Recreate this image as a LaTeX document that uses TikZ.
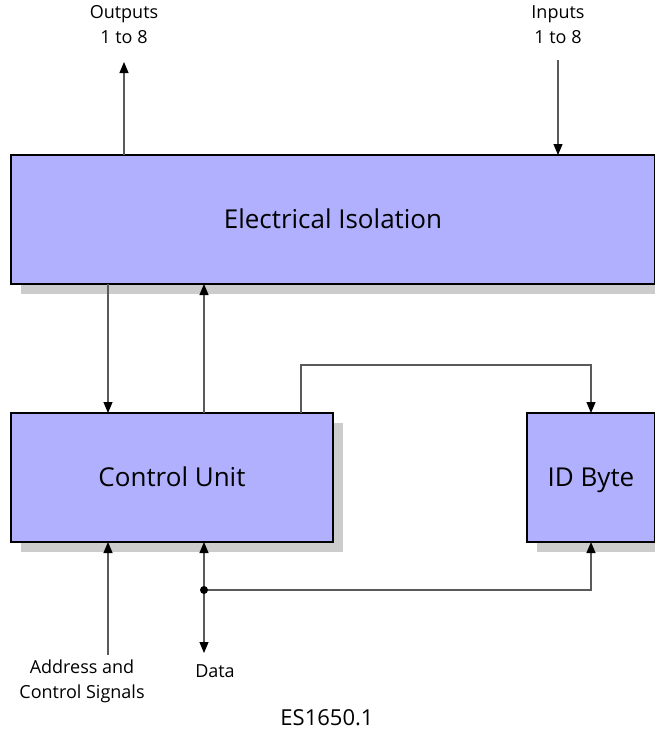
\documentclass[tikz,border=0pt]{standalone}
\usepackage{fontspec}
\setmainfont{Open Sans}
\usetikzlibrary{arrows.meta,shadows}

\definecolor{boxblue}{RGB}{176,176,255}
\definecolor{shadowgray}{RGB}{204,204,204}
\definecolor{wiregray}{RGB}{90,90,90}

\tikzset{
	block/.style={draw=black, line width=1.3pt, fill=boxblue, inner sep=0pt, outer sep=0pt,
		font=\fontsize{26}{30}\selectfont, text height=18.5pt, text depth=0pt,
		drop shadow={shadow xshift=10pt, shadow yshift=-10pt, fill=shadowgray, opacity=1}},
	wire/.style={draw=wiregray, line width=1.2pt},
	tip/.style={-{Triangle[length=11pt,width=9pt,color=black]}},
	sig/.style={wire, tip},
	dsig/.style={wire, {Triangle[length=11pt,width=9pt,color=black]}-{Triangle[length=11pt,width=9pt,color=black]}},
	lbl/.style={align=center, inner sep=0pt, font=\fontsize{18}{25}\selectfont},
}

\begin{document}
\begin{tikzpicture}[x=1pt, y=-1pt]
	\useasboundingbox (0,0) rectangle (655,744);
	\clip (0,0) rectangle (655,744);
	
	% blocks
	\node[block, minimum width=644pt, minimum height=129pt] (ei) at (333,219.5) {Electrical Isolation};
	
	\node[block, minimum width=322pt, minimum height=129pt] (cu) at (172,477.5) {Control Unit};
	
	\node[block, minimum width=128pt, minimum height=129pt] (idb) at (591,477.5) {ID Byte};
	
	% free ends
	\coordinate (outtip) at (124,62);
	\coordinate (intail) at (558,60);
	\coordinate (atail) at (108,655);
	\coordinate (dtip) at (204,653);
	\coordinate (jn) at (204,590);
	\coordinate (looptop) at (301,365);
	
	% labels
	\node[lbl] (outl) at (124,25) {Outputs\\1 to 8};
	
	\node[lbl] (inl) at (558,25) {Inputs\\1 to 8};
	
	\node[lbl] (addrl) at (82,681) {Address and\\Control Signals};
	
	\node[lbl] (datal) at (215,671) {Data};
	
	\node[lbl, font=\fontsize{22}{26}\selectfont] (esl) at (327,718) {ES1650.1};
	
	% connections
	\draw[sig] (ei.north -| outtip) -- (outtip);
	
	\draw[sig] (intail) -- (ei.north -| intail);
	
	\draw[sig] (ei.south -| atail) -- (cu.north -| atail);
	
	\draw[sig] (cu.north -| dtip) -- (ei.south -| dtip);
	
	\draw[sig] (cu.north -| looptop) -- (looptop) -| (idb.north);
	
	\draw[sig] (atail) -- (cu.south -| atail);
	
	\draw[dsig] (cu.south -| dtip) -- (dtip);
	
	\draw[sig] (jn) -| (idb.south);
	
	\fill (jn) circle (4pt);
	
\end{tikzpicture}
\end{document}
